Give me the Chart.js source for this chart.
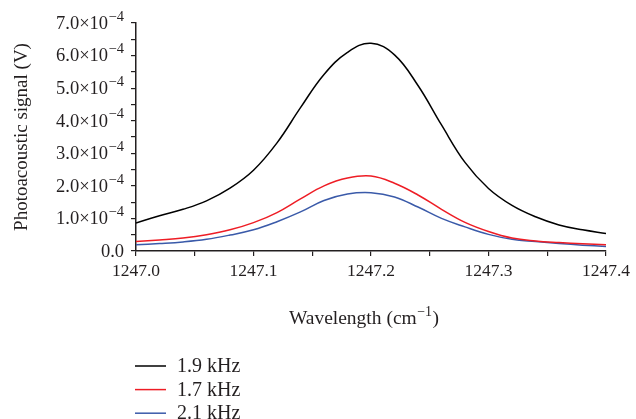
<!DOCTYPE html>
<html>
<head>
<meta charset="utf-8">
<script src="https://cdn.jsdelivr.net/npm/chart.js@4.4.0/dist/chart.umd.min.js"></script>
<style>
html, body { margin: 0; padding: 0; background: #fff; }
</style>
</head>
<body>
<canvas id="paChart" width="636" height="419"></canvas>
<script>
// wavelength in cm^-1
const wavelengths = [1247.00, 1247.02, 1247.04, 1247.06, 1247.08, 1247.10, 1247.12, 1247.14,
    1247.16, 1247.18, 1247.20, 1247.22, 1247.24, 1247.26, 1247.28, 1247.30, 1247.32,
    1247.34, 1247.36, 1247.38, 1247.40]

// photoacoustic signal, in units of 1e-4 V
const signal19 = [0.86, 1.08, 1.28, 1.54, 1.93, 2.48, 3.32, 4.40, 5.42, 6.10, 6.38,
    6.02, 5.08, 3.87, 2.72, 1.92, 1.40, 1.05, 0.80, 0.65, 0.54]
const signal17 = [0.29, 0.34, 0.40, 0.50, 0.65, 0.87, 1.18, 1.60, 2.00, 2.24, 2.30,
    2.08, 1.72, 1.28, 0.88, 0.60, 0.40, 0.31, 0.26, 0.22, 0.19]
const signal21 = [0.19, 0.23, 0.28, 0.36, 0.49, 0.65, 0.90, 1.20, 1.55, 1.75, 1.79,
    1.66, 1.35, 1.00, 0.74, 0.51, 0.36, 0.29, 0.23, 0.18, 0.14]

const seriesLabels = ['1.9 kHz', '1.7 kHz', '2.1 kHz']
const seriesColors = ['#000000', '#ee1d25', '#3a5aa9']

// y tick labels: mantissa part and exponent (drawn as superscript)
const yTickBase = ['0.0', '1.0×10', '2.0×10', '3.0×10', '4.0×10', '5.0×10', '6.0×10', '7.0×10']
const yTickExp = ['', '−4', '−4', '−4', '−4', '−4', '−4', '−4']
const xTickLabels = ['1247.0', '1247.1', '1247.2', '1247.3', '1247.4']

const FONT = '"Liberation Serif", "Times New Roman", serif'
const INK = '#231f20'

function toPoints(values) {
    return values.map((v, i) => ({ x: wavelengths[i], y: v * 1e-4 }))
}

function drawSup(ctx, base, sup, x, y, size, supSize) {
    ctx.font = size + 'px ' + FONT
    const wb = ctx.measureText(base).width
    ctx.font = supSize + 'px ' + FONT
    const ws = sup ? ctx.measureText(sup).width + 0.5 : 0
    const start = x - wb - ws
    ctx.textAlign = 'left'
    ctx.font = size + 'px ' + FONT
    ctx.fillText(base, start, y)
    if (sup) {
        ctx.font = supSize + 'px ' + FONT
        ctx.fillText(sup, start + wb + 0.5, y - size * 0.38)
    }
}

// y tick labels, x axis title and the vertical legend
const extraText = {
    id: 'extraText',
    afterDraw(chart) {
        const ctx = chart.ctx
        const area = chart.chartArea
        const ys = chart.scales.y
        ctx.save()
        ctx.fillStyle = INK
        ctx.textBaseline = 'middle'

        yTickBase.forEach((b, i) => {
            const py = ys.getPixelForValue(i * 1e-4) + 1
            drawSup(ctx, b, yTickExp[i], area.left - 12, py, 18.5, 14.5)
        })

        // x axis title
        const cx = (area.left + area.right) / 2 - 7
        ctx.font = '19.5px ' + FONT
        const w1 = ctx.measureText('Wavelength (cm').width
        ctx.font = '14px ' + FONT
        const w2 = ctx.measureText('−1').width
        ctx.font = '19.5px ' + FONT
        const w3 = ctx.measureText(')').width
        const x0 = cx - (w1 + w2 + w3 + 1) / 2
        const ty = 319
        ctx.textAlign = 'left'
        ctx.fillText('Wavelength (cm', x0, ty)
        ctx.font = '14px ' + FONT
        ctx.fillText('−1', x0 + w1 + 0.5, ty - 7)
        ctx.font = '19.5px ' + FONT
        ctx.fillText(')', x0 + w1 + w2 + 1, ty)

        // legend
        const left = area.left - 1
        ctx.font = '20px ' + FONT
        chart.data.datasets.forEach((ds, i) => {
            const y = 366 + i * 23.6
            ctx.strokeStyle = ds.borderColor
            ctx.lineWidth = 1.5
            ctx.beginPath()
            ctx.moveTo(left, y)
            ctx.lineTo(left + 31, y)
            ctx.stroke()
            ctx.fillStyle = INK
            ctx.fillText(ds.label, left + 42, y + 1)
        })
        ctx.restore()
    }
}

const datasets = [signal19, signal17, signal21].map((vals, i) => ({
    label: seriesLabels[i],
    data: toPoints(vals),
    borderColor: seriesColors[i],
    backgroundColor: seriesColors[i],
    borderWidth: 1.5,
    pointRadius: 0,
    fill: false,
    tension: 0.4
}))

new Chart(document.getElementById('paChart').getContext('2d'), {
    type: 'line',
    data: { datasets: datasets },
    options: {
        responsive: false,
        animation: false,
        layout: { padding: { left: 0, right: 30, top: 23, bottom: 132 } },
        plugins: {
            legend: { display: false },
            tooltip: { enabled: false }
        },
        scales: {
            x: {
                type: 'linear',
                min: 1247.0,
                max: 1247.4,
                border: { display: true, color: INK, width: 1.5 },
                grid: { display: true, drawOnChartArea: false, drawTicks: true, tickLength: 5, color: INK, lineWidth: 1.2 },
                ticks: {
                    stepSize: 0.05,
                    autoSkip: false,
                    maxRotation: 0,
                    color: INK,
                    padding: 5,
                    font: { family: FONT, size: 17.5 },
                    callback: function (v) {
                        const k = Math.round((v - 1247) * 100)
                        return k % 10 === 0 ? xTickLabels[k / 10] : ''
                    }
                }
            },
            y: {
                min: 0,
                max: 7e-4,
                afterFit: function (scale) { scale.width = 136 },
                border: { display: true, color: INK, width: 1.5 },
                grid: { display: true, drawOnChartArea: false, drawTicks: true, tickLength: 5, color: INK, lineWidth: 1.2 },
                ticks: {
                    stepSize: 0.5e-4,
                    autoSkip: false,
                    color: INK,
                    font: { family: FONT, size: 17 },
                    callback: function () { return '' }
                },
                title: {
                    display: true,
                    text: 'Photoacoustic signal (V)',
                    color: INK,
                    font: { family: FONT, size: 19 },
                    padding: { top: 11, bottom: 0 }
                }
            }
        }
    },
    plugins: [extraText]
})
</script>
</body>
</html>
